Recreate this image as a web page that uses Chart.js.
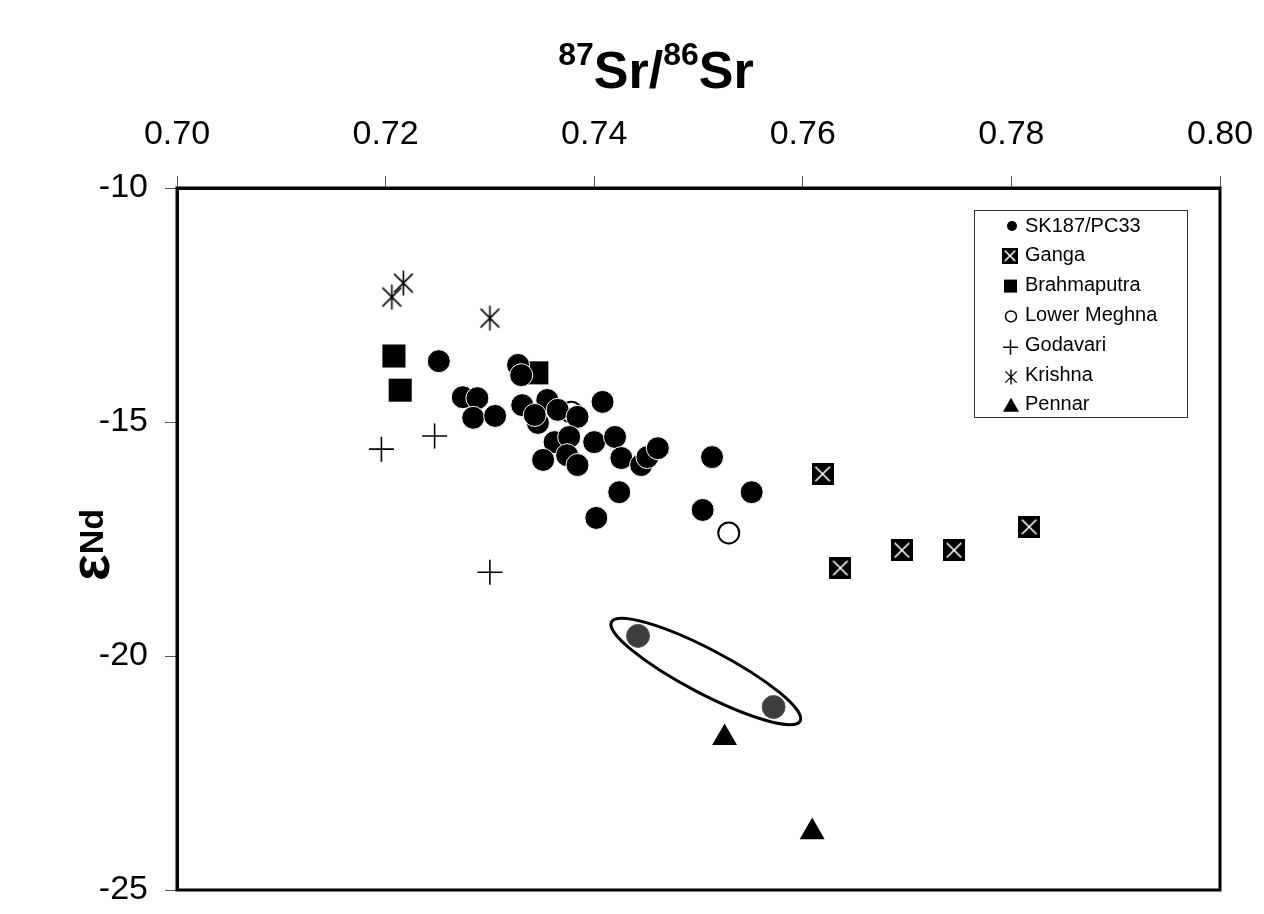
<!DOCTYPE html>
<html>
<head>
<meta charset="utf-8">
<script src="https://cdn.jsdelivr.net/npm/chart.js@4.4.1/dist/chart.umd.min.js"></script>
<style>
  body { margin: 0; background: #fff; }
  canvas { display: block; }
</style>
</head>
<body>
<canvas id="scatterChart" width="1264" height="914"></canvas>
<script>
// Datos: x = 87Sr/86Sr, y = εNd
const skX = [0.7251, 0.7327, 0.7330, 0.7274, 0.7288, 0.7284, 0.7305, 0.7331, 0.7355, 0.7365,
             0.7346, 0.7343, 0.7384, 0.7408, 0.7362, 0.7376, 0.7374, 0.7351, 0.7384, 0.7400,
             0.7420, 0.7426, 0.7445, 0.7451, 0.7461, 0.7424, 0.7402, 0.7513, 0.7551, 0.7504];
const skY = [-13.70, -13.78, -14.00, -14.47, -14.49, -14.91, -14.87, -14.64, -14.53, -14.74,
             -15.02, -14.85, -14.89, -14.57, -15.43, -15.32, -15.71, -15.81, -15.92, -15.43,
             -15.32, -15.77, -15.92, -15.75, -15.56, -16.50, -17.05, -15.75, -16.50, -16.88];
// muestras encerradas en la elipse
const circledX = [0.7442, 0.7572];
const circledY = [-19.57, -21.09];
const gangaX = [0.7619, 0.7636, 0.7695, 0.7745, 0.7817];
const gangaY = [-16.11, -18.12, -17.74, -17.74, -17.24];
const brahmaX = [0.7208, 0.7214, 0.7345];
const brahmaY = [-13.59, -14.32, -13.95];
const meghnaX = [0.7378, 0.7529];
const meghnaY = [-14.79, -17.37];
const godavariX = [0.7196, 0.7247, 0.7300];
const godavariY = [-15.58, -15.30, -18.21];
const krishnaX = [0.7206, 0.7217, 0.7300];
const krishnaY = [-12.33, -12.03, -12.78];
const pennarX = [0.7525, 0.7609];
const pennarY = [-21.75, -23.76];

const xTicks = [0.70, 0.72, 0.74, 0.76, 0.78, 0.80];
const yTicks = [-25, -20, -15, -10];
const legendNames = ["SK187/PC33", "Ganga", "Brahmaputra", "Lower Meghna", "Godavari", "Krishna", "Pennar"];

const FONT = '"Liberation Sans", Arial, sans-serif';

function toPoints(xs, ys) {
  return xs.map((x, i) => ({ x: x, y: ys[i] }));
}

// Marcadores dibujados a mano
function gangaMarker(size) {
  const c = document.createElement("canvas");
  c.width = size; c.height = size;
  const g = c.getContext("2d");
  g.fillStyle = "#000";
  g.fillRect(0, 0, size, size);
  g.strokeStyle = "#fff";
  g.lineWidth = 1.6;
  const m = size * 0.17;
  g.beginPath();
  g.moveTo(m, m); g.lineTo(size - m, size - m);
  g.moveTo(size - m, m); g.lineTo(m, size - m);
  g.stroke();
  return c;
}

function asterisk(g, x, y, r, lw) {
  g.strokeStyle = "#000";
  g.lineWidth = lw;
  const d = r * 0.75;
  g.beginPath();
  g.moveTo(x, y - r); g.lineTo(x, y + r);
  g.moveTo(x - d, y - d); g.lineTo(x + d, y + d);
  g.moveTo(x + d, y - d); g.lineTo(x - d, y + d);
  g.stroke();
}

function krishnaMarker(size) {
  const c = document.createElement("canvas");
  c.width = size; c.height = size;
  asterisk(c.getContext("2d"), size / 2, size / 2, size / 2 - 1, 1.6);
  return c;
}

// quitar el margen extra que Chart.js deja para las etiquetas de los extremos
function noOverhang(scale) {
  scale.paddingLeft = 0;
  scale.paddingRight = 0;
  scale.paddingTop = 0;
  scale.paddingBottom = 0;
}

const ctx = document.getElementById("scatterChart");

// Titulos, marco, elipse y leyenda
const extras = {
  id: "extras",
  afterDatasetsDraw(chart) {
    const g = chart.ctx;
    const a = chart.chartArea;
    g.save();

    // marco completo
    g.strokeStyle = "#000";
    g.lineWidth = 3;
    g.strokeRect(a.left, a.top, a.right - a.left, a.bottom - a.top);

    // elipse alrededor de las dos muestras
    const pts = chart.getDatasetMeta(1).data;
    const p1 = pts[0], p2 = pts[1];
    const cx = (p1.x + p2.x) / 2, cy = (p1.y + p2.y) / 2;
    const ang = Math.atan2(p2.y - p1.y, p2.x - p1.x);
    const half = Math.hypot(p2.x - p1.x, p2.y - p1.y) / 2;
    g.lineWidth = 3;
    g.beginPath();
    g.ellipse(cx, cy, half + 30, 22, ang, 0, Math.PI * 2);
    g.stroke();

    // titulo superior con superindices
    g.fillStyle = "#000";
    g.textBaseline = "alphabetic";
    const big = "bold 52px " + FONT, small = "bold 32px " + FONT;
    const parts = [["87", small, -23], ["Sr/", big, 0], ["86", small, -23], ["Sr", big, 0]];
    let total = 0;
    parts.forEach(p => { g.font = p[1]; total += g.measureText(p[0]).width; });
    let tx = 656 - total / 2;
    parts.forEach(p => {
      g.font = p[1];
      g.fillText(p[0], tx, 88 + p[2]);
      tx += g.measureText(p[0]).width;
    });

    // titulo eje y (epsilon grande)
    g.save();
    g.rotate(-Math.PI / 2);
    const epsFont = "bold 56px " + FONT, ndFont = "bold 34px " + FONT;
    g.font = epsFont; const wE = g.measureText("\u03B5").width;
    g.font = ndFont; const wN = g.measureText("Nd").width;
    const start = -545 - (wE + wN) / 2;
    const base = 103;
    g.textAlign = "left";
    g.textBaseline = "alphabetic";
    g.font = epsFont;
    g.fillText("\u03B5", start, base + 6);
    g.font = ndFont;
    g.fillText("Nd", start + wE, base);
    g.restore();

    // leyenda
    g.fillStyle = "#fff";
    g.fillRect(974, 210, 213, 207);
    g.strokeStyle = "#333";
    g.lineWidth = 1;
    g.strokeRect(974.5, 210.5, 213, 207);
    g.font = "20px " + FONT;
    g.textAlign = "left";
    g.textBaseline = "middle";
    const mx = 1010;
    legendNames.forEach((name, i) => {
      const y = 226 + i * 29.8;
      g.fillStyle = "#000";
      g.strokeStyle = "#000";
      if (i === 0) {
        g.beginPath(); g.arc(mx + 2, y, 5, 0, Math.PI * 2); g.fill();
      } else if (i === 1) {
        g.drawImage(gangaMarker(16), mx - 8, y - 8);
      } else if (i === 2) {
        g.fillRect(mx - 6, y - 6, 13, 13);
      } else if (i === 3) {
        g.lineWidth = 1.5;
        g.beginPath(); g.arc(mx + 1, y + 1, 5.5, 0, Math.PI * 2); g.stroke();
      } else if (i === 4) {
        g.lineWidth = 1.5;
        g.beginPath();
        g.moveTo(mx - 7, y + 2); g.lineTo(mx + 8, y + 2);
        g.moveTo(mx + 0.5, y - 5.5); g.lineTo(mx + 0.5, y + 9.5);
        g.stroke();
      } else if (i === 5) {
        asterisk(g, mx + 1, y + 2, 7.5, 1.4);
      } else {
        g.beginPath();
        g.moveTo(mx + 1, y - 7); g.lineTo(mx + 9, y + 7); g.lineTo(mx - 7, y + 7);
        g.closePath(); g.fill();
      }
      g.fillStyle = "#000";
      g.fillText(name, 1025, y);
    });

    g.restore();
  }
};

new Chart(ctx, {
  type: "scatter",
  data: {
    datasets: [
      { label: legendNames[0], data: toPoints(skX, skY), pointStyle: "circle", pointRadius: 11.5,
        backgroundColor: "#000", borderColor: "#fff", borderWidth: 1 },
      { label: "SK187/PC33 (elipse)", data: toPoints(circledX, circledY), pointStyle: "circle", pointRadius: 11.5,
        backgroundColor: "#3d3d3d", borderColor: "#555", borderWidth: 1 },
      { label: legendNames[1], data: toPoints(gangaX, gangaY), pointStyle: gangaMarker(22) },
      { label: legendNames[2], data: toPoints(brahmaX, brahmaY), pointStyle: "rect", pointRadius: 16.3,
        backgroundColor: "#000", borderColor: "#000", borderWidth: 0 },
      { label: legendNames[3], data: toPoints(meghnaX, meghnaY), pointStyle: "circle", pointRadius: 10.5,
        backgroundColor: "#fff", borderColor: "#000", borderWidth: 2 },
      { label: legendNames[4], data: toPoints(godavariX, godavariY), pointStyle: "cross", pointRadius: 12.5,
        borderColor: "#000", borderWidth: 1.6 },
      { label: legendNames[5], data: toPoints(krishnaX, krishnaY), pointStyle: krishnaMarker(27) },
      { label: legendNames[6], data: toPoints(pennarX, pennarY), pointStyle: "triangle", pointRadius: 14.4,
        backgroundColor: "#000", borderColor: "#000", borderWidth: 0 }
    ]
  },
  options: {
    responsive: false,
    animation: false,
    layout: { padding: { left: 0, top: 0, right: 44, bottom: 24 } },
    plugins: {
      legend: { display: false },
      tooltip: { enabled: false }
    },
    scales: {
      x: {
        type: "linear",
        position: "top",
        min: 0.70,
        max: 0.80,
        afterFit(scale) { scale.height = 188; noOverhang(scale); },
        afterBuildTicks(scale) { scale.ticks = xTicks.map(v => ({ value: v })); },
        ticks: {
          padding: 21,
          color: "#000",
          font: { family: FONT, size: 34 },
          callback: v => Number(v).toFixed(2)
        },
        grid: { drawOnChartArea: false, drawTicks: true, tickLength: 12, tickColor: "#555", tickWidth: 1 },
        border: { display: true, color: "#000", width: 3 }
      },
      y: {
        type: "linear",
        min: -25,
        max: -10,
        afterFit(scale) { scale.width = 177; noOverhang(scale); },
        afterBuildTicks(scale) { scale.ticks = yTicks.map(v => ({ value: v })); },
        ticks: {
          padding: 17,
          color: "#000",
          font: { family: FONT, size: 34 },
          callback: v => String(v)
        },
        grid: { drawOnChartArea: false, drawTicks: true, tickLength: 12, tickColor: "#555", tickWidth: 1 },
        border: { display: true, color: "#000", width: 3 }
      }
    }
  },
  plugins: [extras]
});
</script>
</body>
</html>
